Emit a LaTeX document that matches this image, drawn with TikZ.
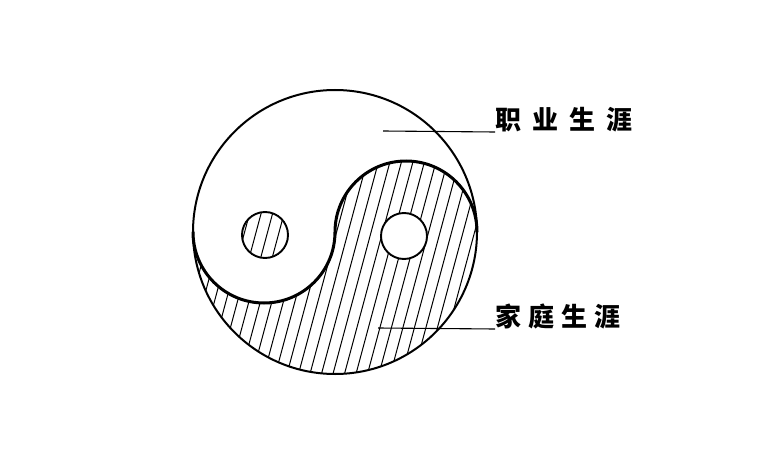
\documentclass[tikz,border=0pt]{standalone}
\usepackage{fontspec}
\newfontfamily\cjk{Noto Sans CJK SC}
\usetikzlibrary{positioning}

\begin{document}
\begin{tikzpicture}[x=1pt, y=1pt,
    rim/.style={line width=2pt},
    sline/.style={line width=3pt, line cap=round},
    eye/.style={line width=1.9pt},
    hatch/.style={line width=1pt},
    lbl/.style={font=\cjk\bfseries\fontsize{26}{26}\selectfont, inner sep=0pt, anchor=south west},
    lead/.style={line width=1.1pt}]
  \useasboundingbox (0,0) rectangle (763,475);
  % hatched half
  \begin{scope}
    \clip (193,243) arc[start angle=180, end angle=360, radius=142]
      arc[start angle=0, end angle=180, radius=71]
      arc[start angle=0, end angle=-180, radius=71] -- cycle;
    \foreach \x in {100,111.5,...,560} {\draw[hatch] (\x,90) -- ++(86,320);}
  \end{scope}
  % eyes
  \filldraw[eye, fill=white] (404,239) circle[radius=23];
  \begin{scope}
    \clip (265,240) circle[radius=23];
    \foreach \x in {100,111.5,...,560} {\draw[hatch] (\x,90) -- ++(86,320);}
  \end{scope}
  \draw[eye] (265,240) circle[radius=23];
  % outline and s-curve
  \draw[rim] (335,243) circle[radius=142];
  \draw[sline] (477,243) arc[start angle=0, end angle=180, radius=71]
    arc[start angle=0, end angle=-180, radius=71];
  % labels
  \coordinate (p1) at (383,344);
  \coordinate (p2) at (378,147);
  \node[lbl] (career) at (495,343) {职\hspace{11pt}业\hspace{11pt}生\hspace{11pt}涯};
  \node[lbl] (family) at (495,146) {家\hspace{7pt}庭\hspace{7pt}生\hspace{7pt}涯};
  \draw[lead] (p1) -- (career.south west);
  \draw[lead] (p2) -- (family.south west);
\end{tikzpicture}
\end{document}
